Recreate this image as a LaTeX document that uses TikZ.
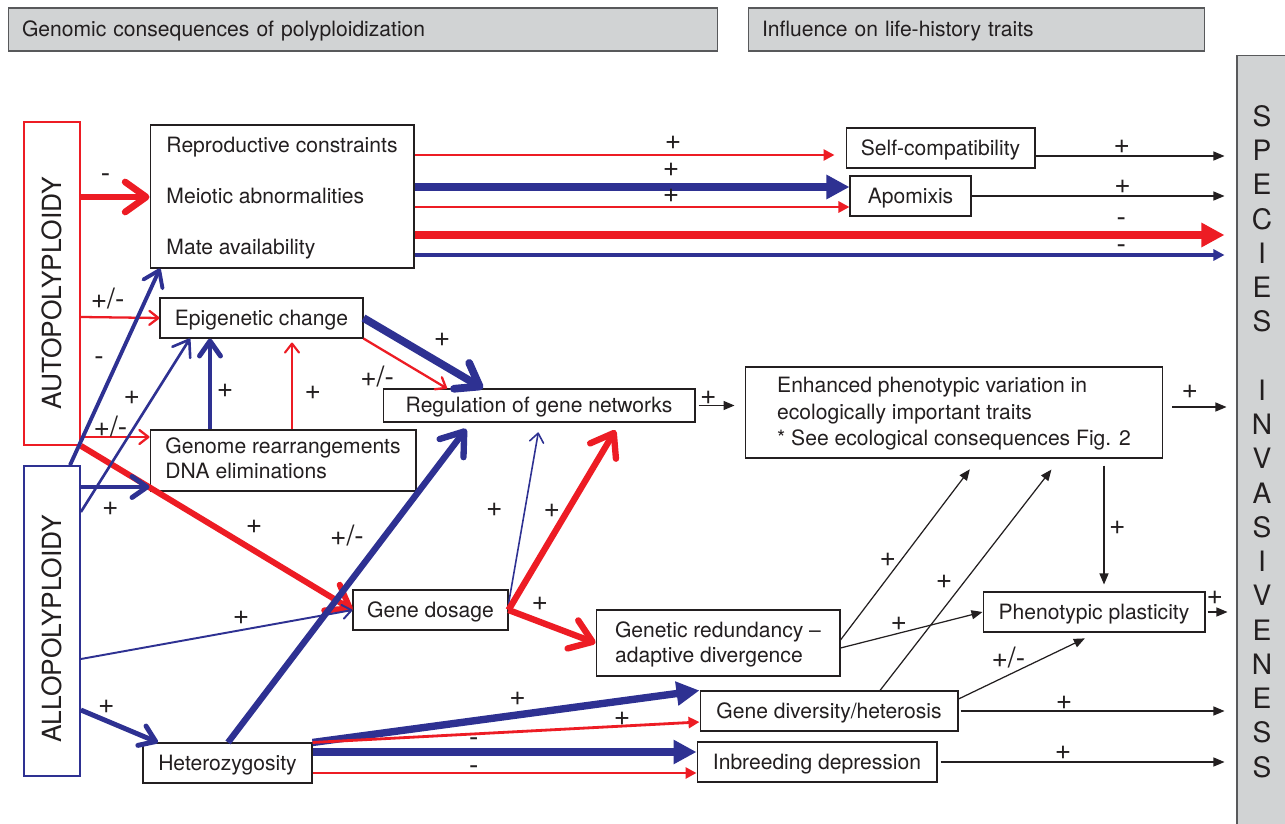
\documentclass[tikz,border=0pt]{standalone}
\usepackage{fontspec}
\setmainfont{TeX Gyre Heros}
\usetikzlibrary{arrows.meta}
\definecolor{autored}{HTML}{ED1C24}
\definecolor{alloblue}{HTML}{2E3192}
\definecolor{ink}{HTML}{231F20}
\definecolor{panelgray}{HTML}{D1D3D4}
\definecolor{edgegray}{HTML}{58595B}
\tikzset{
  box/.style={draw=ink, line width=0.6pt, text=ink, inner xsep=0.28cm, inner ysep=0.05cm, align=left, text height=11pt, text depth=2.5pt, font=\fontsize{12}{14.2}\selectfont},
  hdr/.style={draw=edgegray, fill=panelgray, line width=0.6pt, text=ink, inner xsep=0.28cm, align=left, minimum height=0.86cm, text height=11pt, text depth=2.5pt, font=\fontsize{12}{14.2}\selectfont},
  ploidy/.style={line width=1pt, text=ink, inner sep=0, minimum width=1.12cm, font=\fontsize{15}{18}\selectfont},
  sgn/.style={text=ink, inner sep=2.5pt, font=\fontsize{16}{18}\selectfont},
  ra/.style={draw=autored, line width=#1},
  ba/.style={draw=alloblue, line width=#1},
  ka/.style={draw=ink, line width=0.7pt, -{Triangle[length=0.22cm, width=0.18cm]}},
  barbL/.style={-{Straight Barb[round, length=0.42cm, width=0.6cm]}},
  barbM/.style={-{Straight Barb[round, length=0.3cm, width=0.42cm]}},
  barbS/.style={-{Straight Barb[round, length=0.18cm, width=0.28cm]}},
  triL/.style={-{Triangle[length=0.46cm, width=0.46cm]}},
  triS/.style={-{Triangle[length=0.22cm, width=0.22cm]}}
}
\begin{document}
\begin{tikzpicture}[x=0.02cm, y=-0.02cm]
\fill[white, use as bounding box] (0,0) rectangle (1285,824);

\node[hdr, text width=13.64cm] (hgen) at (363,29.5) {Genomic consequences of polyploidization};
\node[hdr, text width=8.58cm] (hlife) at (976.5,29.5) {Influence on life-history traits};
\node[draw=edgegray, fill=panelgray, line width=0.6pt, minimum width=1cm, minimum height=15.46cm, inner sep=0, align=center, text=ink, font=\fontsize{16}{19.5}\selectfont] (invas) at (1262,441.5)
  {S\\P\\E\\C\\I\\E\\S\\[19.5pt]I\\N\\V\\A\\S\\I\\V\\E\\N\\E\\S\\S};

\node[ploidy, draw=autored, minimum height=6.46cm] (auto) at (52,283.5) {\rotatebox{90}{AUTOPOLYPLOIDY\hspace{0.4cm}}};
\node[ploidy, draw=alloblue, minimum height=6.2cm] (allo) at (52,621) {\rotatebox{90}{ALLOPOLYPLOIDY\hspace{0.32cm}}};

\node[box, minimum width=5.28cm, minimum height=2.86cm, text height=68.3pt, text depth=2.5pt, font=\fontsize{12}{29}\selectfont] (repro) at (282,196.5) {Reproductive constraints\\Meiotic abnormalities\\Mate availability};
\node[box, minimum width=4.06cm, minimum height=0.8cm] (epi) at (261.5,318) {Epigenetic change};
\node[box, minimum width=5.32cm, minimum height=1.22cm, text height=20.5pt, text depth=0pt] (genome) at (283,460.5) {Genome rearrangements\\DNA eliminations};
\node[box, minimum width=6.24cm, minimum height=0.66cm] (reg) at (539,405.5) {Regulation of gene networks};
\node[box, minimum width=8.36cm, minimum height=1.82cm, text height=39.9pt, text depth=2.5pt, font=\fontsize{12}{15}\selectfont] (enh) at (954,412.5) {Enhanced phenotypic variation in\\ecologically important traits\\* See ecological consequences Fig. 2};
\node[box, minimum width=3.1cm, minimum height=0.8cm] (gdos) at (430.5,610) {Gene dosage};
\node[box, minimum width=4.88cm, minimum height=1.32cm, text height=24.5pt, text depth=2.5pt] (redund) at (718,643) {Genetic redundancy --\\adaptive divergence};
\node[box, minimum width=4.44cm, minimum height=0.8cm] (plast) at (1094,612) {Phenotypic plasticity};
\node[box, minimum width=5.16cm, minimum height=0.8cm] (div) at (829,711) {Gene diversity/heterosis};
\node[box, minimum width=4.8cm, minimum height=0.8cm] (inb) at (817,762) {Inbreeding depression};
\node[box, minimum width=3.38cm, minimum height=0.8cm] (het) at (227.5,763) {Heterozygosity};
\node[box, minimum width=3.78cm, minimum height=0.8cm] (selfc) at (940.5,148) {Self-compatibility};
\node[box, minimum width=2.42cm, minimum height=0.8cm] (apo) at (910.5,196) {Apomixis};

\draw[ra=3.8pt, barbL] (auto.east |- 0,197) to node[sgn, pos=0.36, above=3.8pt]{-} (repro.west |- 0,197);
\draw[ra=1.3pt, barbS] (auto.east |- 0,317) to node[sgn, pos=0.34, above=1.3pt]{+/-} (epi.west);
\draw[ra=1.3pt, barbS] (auto.east |- 0,437) to node[sgn, pos=0.43, above=-3.2pt]{+/-} (genome.west |- 0,437);
\draw[ra=3.4pt, barbL] (auto.south east) to node[sgn, pos=0.58, above right]{+} (gdos.west);

\draw[ba=2.2pt, barbM] (allo.north -| 70,0) to node[sgn, pos=0.53, left=4.4pt]{-} (repro.south -| 160,0);
\draw[ba=1.5pt, barbM] (allo.east |- 0,512) to node[sgn, pos=0.66, left=4.1pt]{+} (epi.south -| 190,0);
\draw[ba=2.8pt, barbM] (allo.east |- 0,487) to node[sgn, pos=0.43, below=4.8pt]{+} (genome.west |- 0,487);
\draw[ba=1.1pt, barbS] (allo.east |- 0,659) to node[sgn, pos=0.59, above]{+} (gdos.west);
\draw[ba=2.8pt, barbM] (allo.east |- 0,710) to node[sgn, pos=0.33, above]{+} (het.north -| 158,0);

\draw[ba=2.8pt, barbM] (genome.north -| 210,0) to node[sgn, pos=0.43, right]{+} (epi.south -| 210,0);
\draw[ra=1.2pt, barbS, shorten >=0.08cm] (genome.north -| 292,0) to node[sgn, pos=0.4, right=4.1pt]{+} (epi.south -| 292,0);
\draw[ba=4.4pt, barbL] (epi.east) to node[sgn, pos=0.52, above right]{+} (reg.north -| 483,0);
\draw[ra=1.3pt, barbS] (epi.south east) to node[sgn, pos=0.43, below left]{+/-} (reg.north -| 447,0);
\draw[ba=3.6pt, barbL, shorten >=0.16cm] (het.north -| 228,0) to node[sgn, pos=0.59, above left]{+/-} (reg.south -| 471,0);
\draw[ba=0.9pt, barbS, shorten >=0.2cm] (gdos.east |- 0,604) to node[sgn, pos=0.52, left=9.8pt]{+} (reg.south -| 540,0);
\draw[ra=3.6pt, barbL, shorten >=0.18cm] (gdos.east) to node[sgn, pos=0.53, left]{+} (reg.south -| 620,0);
\draw[ra=3.6pt, barbL] (gdos.east) to node[sgn, pos=0.36, above=2pt]{+} (redund.west);

\draw[ka, shorten <=0.06cm, shorten >=0.2cm] (reg.east) to node[sgn, pos=0.26, above=-2pt]{+} (enh.west |- reg.east);
\draw[ka, shorten <=0.18cm, shorten >=0.2cm] (enh.east |- 0,407) to node[sgn, pos=0.36, above=2pt]{+} (invas.west |- 0,407);
\draw[ka, shorten <=0.14cm, shorten >=0.14cm] (enh.south -| 1104,0) to node[sgn, pos=0.52, right]{+} (plast.north -| 1104,0);
\draw[ka, shorten >=0.27cm] (redund.east |- 0,640) to node[sgn, pos=0.44, left]{+} (enh.south -| 978,0);
\draw[ka] (redund.east |- 0,648) to node[sgn, pos=0.41, above=-1.4pt]{+} (plast.west);
\draw[ka, shorten >=0.28cm] (div.north -| 880,0) to node[sgn, pos=0.47, left=4.1pt]{+} (enh.south -| 1060,0);
\draw[ka, shorten >=0.27cm] (div.east |- 0,699) to node[sgn, pos=0.36, above=1.3pt]{+/-} (plast.south -| 1097,0);
\draw[ka, shorten <=0.04cm, shorten >=0.24cm] (div.east) to node[sgn, pos=0.38, above=-2pt]{+} (invas.west |- div.east);
\draw[ka, shorten <=0.06cm, shorten >=0.24cm] (inb.east) to node[sgn, pos=0.42, above=-1.4pt]{+} (invas.west |- inb.east);
\draw[ka, shorten <=0.04cm, shorten >=0.18cm] (plast.east) to node[sgn, pos=0.3, above=1.4pt]{+} (invas.west |- plast.east);
\draw[ka, shorten >=0.24cm] (selfc.east |- 0,156) to node[sgn, pos=0.43, above=-1.4pt]{+} (invas.west |- 0,156);
\draw[ka, shorten >=0.24cm] (apo.east) to node[sgn, pos=0.57, above=-1.4pt]{+} (invas.west |- apo.east);

\draw[ra=1.6pt, triS, shorten >=0.22cm] (repro.east |- 0,155) to node[sgn, pos=0.6, above=0pt]{+} (selfc.west |- 0,155);
\draw[ba=4.4pt, triL] (repro.east |- 0,187) to node[sgn, pos=0.59, above=1pt]{+} (apo.west |- 0,187);
\draw[ra=1.6pt, triS] (repro.east |- 0,207) to node[sgn, pos=0.59, above=-1pt]{+} (apo.west |- 0,207);
\draw[ra=4.4pt, triL, shorten >=0.24cm] (repro.east |- 0,235) to node[sgn, pos=0.86, above=0pt]{-} (invas.west |- 0,235);
\draw[ba=2.2pt, triS, shorten >=0.24cm] (repro.east |- 0,255) to node[sgn, pos=0.86, above=-2.8pt]{-} (invas.west |- 0,255);

\draw[ba=4.2pt, triL] (het.north east) to node[sgn, pos=0.53, above=0.6pt]{+} (div.north west);
\draw[ra=1.6pt, triS] (het.north east) to node[sgn, pos=0.8, above=-3pt]{+} (div.west |- 0,722);
\draw[ba=4.4pt, triL] (het.east |- 0,752) to node[sgn, pos=0.42, above=-1.3pt]{-} (inb.west |- 0,752);
\draw[ra=1.6pt, triS] (het.east |- 0,773) to node[sgn, pos=0.42, above=-4pt]{-} (inb.west |- 0,773);
\end{tikzpicture}
\end{document}
